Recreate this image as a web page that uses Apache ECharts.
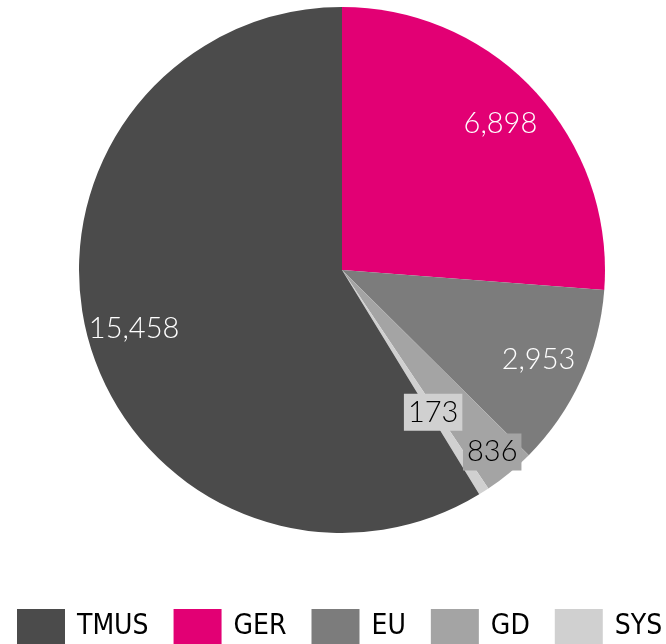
<!DOCTYPE html>
<html>
<head>
<meta charset="utf-8">
<script src="https://cdn.jsdelivr.net/npm/echarts@6/dist/echarts.min.js"></script>
<style>
  html, body { margin: 0; padding: 0; background: #fff; }
  #chart { width: 666px; height: 644px; }
</style>
</head>
<body>
<div id="chart"></div>
<script>
    // slices, in drawing order (clockwise from 12 o'clock)
    const sliceNames = ['GER', 'EU', 'GD', 'SYS', 'TMUS'];
    const sliceValues = [6898, 2953, 836, 173, 15458];
    const legendOrder = ['TMUS', 'GER', 'EU', 'GD', 'SYS'];

    const colors = {
        TMUS: '#4b4b4b',
        GER: '#e20074',
        EU: '#7c7c7c',
        GD: '#a4a4a4',
        SYS: '#d0d0d0'
    };
    const cx = 342, cy = 270, r = 263;
    // small slices get a boxed label in black
    const boxed = {GD: true, SYS: true};

    const chart = echarts.init(document.getElementById('chart'));

    const data = sliceNames.map((name, i) => {
        const item = {
            name: name,
            value: sliceValues[i],
            itemStyle: {color: colors[name]}
        };
        if (boxed[name]) {
            item.label = {
                color: '#000',
                backgroundColor: colors[name],
                padding: [5, 4, 3, 4]
            };
        }
        return item;
    });

    chart.setOption({
        animation: false,
        legend: {
            data: legendOrder,
            top: 609,
            left: 17,
            padding: 0,
            icon: 'rect',
            itemWidth: 48,
            itemHeight: 36,
            itemGap: 25,
            selectedMode: false,
            textStyle: {
                fontFamily: '"DejaVu Sans Condensed", Roboto, sans-serif',
                fontSize: 28,
                color: '#000',
                padding: [0, 0, 0, 7]
            }
        },
        series: [{
            type: 'pie',
            center: [cx, cy],
            radius: [0, r],
            startAngle: 90,
            clockwise: true,
            avoidLabelOverlap: false,
            itemStyle: {borderWidth: 0},
            emphasis: {disabled: true},
            label: {
                show: true,
                position: 'inside',
                fontFamily: 'Lato, "Noto Sans", sans-serif',
                fontWeight: 300,
                fontSize: 29,
                color: '#fff',
                formatter: p => p.value.toLocaleString('en-US')
            },
            labelLine: {show: false},
            labelLayout: function (params) {
                const name = sliceNames[params.dataIndex];
                let target = 216;
                if (name === 'SYS') target = 169;
                if (name === 'GD') target = 236;
                const lr = params.labelRect;
                const mx = lr.x + lr.width / 2 - cx;
                const my = lr.y + lr.height / 2 - cy;
                const len = Math.sqrt(mx * mx + my * my) || 1;
                return {
                    x: cx + mx / len * target,
                    y: cy + my / len * target
                };
            },
            data: data
        }]
    });
</script>
</body>
</html>
